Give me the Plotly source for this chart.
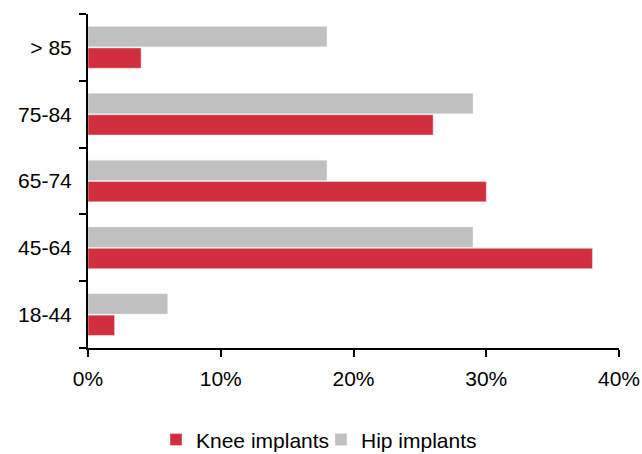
import plotly.graph_objects as go

# age groups, bottom to top
age_groups = ["18-44", "45-64", "65-74", "75-84", "> 85"]
knee_pct = [2, 38, 30, 26, 4]
hip_pct = [6, 29, 18, 29, 18]

x_ticks = [0, 10, 20, 30, 40]
x_tick_labels = ["0%", "10%", "20%", "30%", "40%"]

fig = go.Figure()
fig.add_trace(go.Bar(y=age_groups, x=knee_pct, name="Knee implants",
                     orientation="h", marker_color="#D12F3E"))
fig.add_trace(go.Bar(y=age_groups, x=hip_pct, name="Hip implants",
                     orientation="h", marker_color="#C0C0C0"))

fig.update_layout(
    width=642, height=454,
    margin=dict(l=88, r=23, t=14, b=106),
    barmode="group", bargap=0.36, bargroupgap=0.05,
    plot_bgcolor="white", paper_bgcolor="white",
    font=dict(family="Liberation Sans, Arial, sans-serif", size=21, color="black"),
    legend=dict(orientation="h", xref="container", x=0.5, xanchor="center",
                yref="container", y=0.031, yanchor="middle", font=dict(size=21),
                itemwidth=30, entrywidth=120),
)
fig.update_xaxes(range=[0, 40], tickvals=x_ticks, ticktext=x_tick_labels,
                 showgrid=False, zeroline=False, showline=True, linecolor="black",
                 linewidth=2, ticks="outside", ticklen=7, tickwidth=2, tickcolor="black",
                 ticklabelstandoff=4, automargin=False)
fig.update_yaxes(range=[-0.5, 4.5], showgrid=False, showline=True, linecolor="black",
                 linewidth=2, ticks="outside", tickson="boundaries", ticklen=7,
                 tickwidth=2, tickcolor="black", ticklabelstandoff=10, automargin=False)

# drop the browser's default body margin so the figure sits at the page corner
fig.write_html("out.html", config={"displayModeBar": False},
               post_script="document.body.style.margin = '0';")
